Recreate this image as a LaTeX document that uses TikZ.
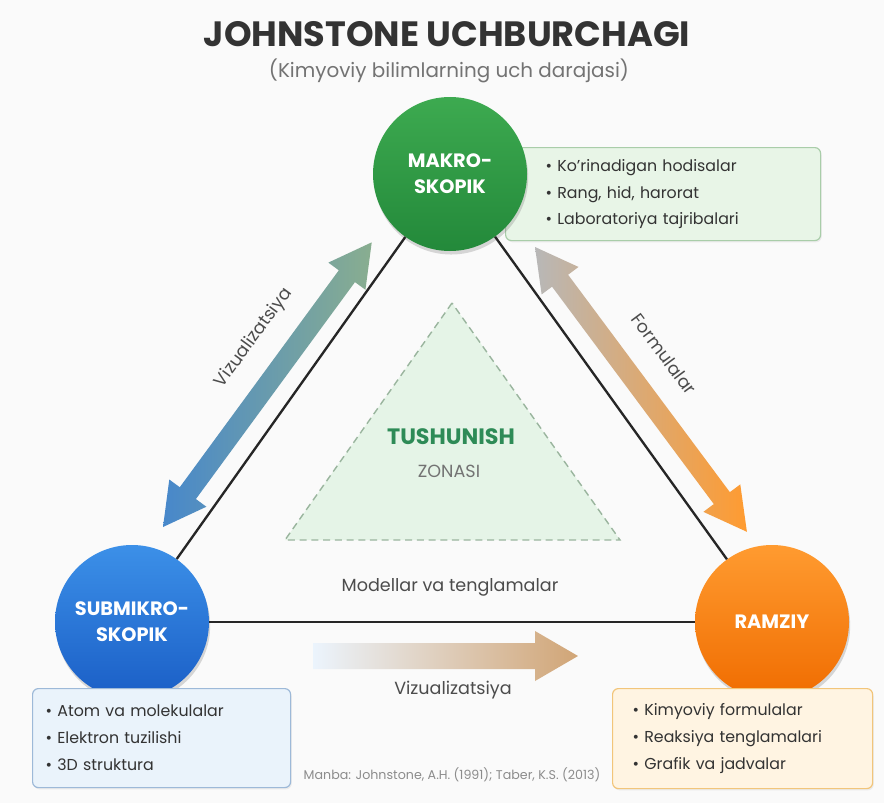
\documentclass[tikz,border=0pt]{standalone}
\usepackage{fontspec}
\setmainfont{Poppins}
\usetikzlibrary{shadows}

\definecolor{bgcol}{HTML}{FAFAFA}
\definecolor{makrotop}{HTML}{3DAA50}
\definecolor{makrobot}{HTML}{23893A}
\definecolor{subtop}{HTML}{3C90E8}
\definecolor{subbot}{HTML}{1A5EC6}
\definecolor{ramtop}{HTML}{FF9B30}
\definecolor{rambot}{HTML}{F06C00}
\definecolor{makrobox}{HTML}{E8F5E7}
\definecolor{makroline}{HTML}{A9CDA9}
\definecolor{subbox}{HTML}{EAF3FB}
\definecolor{subline}{HTML}{9DB9D8}
\definecolor{rambox}{HTML}{FFF4E2}
\definecolor{ramline}{HTML}{F2C57A}
\definecolor{zonefill}{HTML}{E5F4E7}
\definecolor{zoneline}{HTML}{9AB59E}
\definecolor{zonegreen}{HTML}{2E8B57}

\begin{document}
\begin{tikzpicture}[x=0.3mm, y=-0.3mm,
  stage/.style={circle, minimum size=46.2mm, inner sep=0pt, align=center, text=white,
    font=\fontsize{16.5}{22}\selectfont\bfseries,
    drop shadow={shadow xshift=1pt, shadow yshift=-3pt, opacity=0.3}},
  info/.style={anchor=north west, rounded corners=5pt, line width=1pt, align=left,
    inner ysep=0pt, text=black!80, font=\fontsize{13.5}{23}\selectfont,
    drop shadow={shadow xshift=1pt, shadow yshift=-1.5pt, opacity=0.12}},
  side/.style={line width=2pt, draw=black!85},
  zone/.style={fill=zonefill, draw=zoneline, line width=1.2pt, dash pattern=on 6pt off 4pt},
  arrowtext/.style={text=black!70, font=\fontsize{15}{18}\selectfont}]
	\useasboundingbox (0,0) rectangle (884,803);
	\fill[bgcol] (0,0) rectangle (884,803);
	\node[text=black!80, font=\fontsize{30}{33}\selectfont\bfseries] (title) at (447,34) {JOHNSTONE UCHBURCHAGI};
	\node[text=black!55, font=\fontsize{17}{20}\selectfont] (subtitle) at (449,71) {(Kimyoviy bilimlarning uch darajasi)};
	\coordinate (z1) at (452,303);
	\coordinate (z2) at (285,540);
	\coordinate (z3) at (620,540);
	\draw[zone] (z1) -- (z2) -- (z3) -- cycle;
	\node[text=zonegreen, font=\fontsize{19}{22}\selectfont\bfseries] (tush) at (451,437) {TUSHUNISH};
	\node[text=black!55, font=\fontsize{15}{18}\selectfont] (zona) at (449,471) {ZONASI};
	\node[info, draw=makroline, fill=makrobox, minimum height=27.9mm, text width=70.5mm, inner xsep=12mm] (makroinfo) at (505,147) {\textbullet\ Ko’rinadigan hodisalar\\ \textbullet\ Rang, hid, harorat\\ \textbullet\ Laboratoriya tajribalari};
	\node[stage, top color=makrotop, bottom color=makrobot] (makro) at (450,174) {MAKRO-\\SKOPIK};
	\node[stage, top color=subtop, bottom color=subbot] (submikro) at (132,622) {SUBMIKRO-\\SKOPIK};
	\node[stage, top color=ramtop, bottom color=rambot] (ramziy) at (772,622) {RAMZIY};
	\draw[side] (makro) -- (submikro);
	\draw[side] (makro) -- (ramziy);
	\draw[side] (submikro) -- (ramziy);
	\coordinate (viz1) at (163,527);
	\begin{scope}[shift={(viz1)}, rotate=53.75]
		\shade[left color=subtop!85!black!90, middle color=subtop!45, right color=makrotop!45!gray!75]
			(0,0) -- (42,-23) -- (42,-10) -- (311,-10) -- (311,-23) -- (353,0) -- (311,23) -- (311,10) -- (42,10) -- (42,23) -- cycle;
	\end{scope}
	\node[arrowtext, rotate=53.75] (vizlabel) at (254,338) {Vizualizatsiya};
	\coordinate (form1) at (535,247);
	\begin{scope}[shift={(form1)}, rotate=-53.35]
		\shade[left color=black!28, middle color=black!12!orange!25, right color=ramtop]
			(0,0) -- (42,-23) -- (42,-10) -- (313,-10) -- (313,-23) -- (355,0) -- (313,23) -- (313,10) -- (42,10) -- (42,23) -- cycle;
	\end{scope}
	\node[arrowtext, rotate=-53.35] (formlabel) at (664,354) {Formulalar};
	\node[arrowtext] (model) at (450,587) {Modellar va tenglamalar};
	\coordinate (mv1) at (313,656);
	\begin{scope}[shift={(mv1)}]
		\shade[left color=subtop!10, middle color=subtop!35!gray!45, right color=ramtop!55!gray!80]
			(0,-13) -- (222,-13) -- (222,-25) -- (265,0) -- (222,25) -- (222,13) -- (0,13) -- cycle;
	\end{scope}
	\node[arrowtext] (vizbottom) at (453,690) {Vizualizatsiya};
	\node[info, draw=subline, fill=subbox, minimum height=29.7mm, text width=69.6mm, inner xsep=3.9mm] (subinfo) at (32,688) {\textbullet\ Atom va molekulalar\\ \textbullet\ Elektron tuzilishi\\ \textbullet\ 3D struktura};
	\node[text=black!45, font=\fontsize{10.8}{13}\selectfont] (manba) at (452,775) {Manba: Johnstone, A.H. (1991); Taber, K.S. (2013)};
	\node[info, draw=ramline, fill=rambox, minimum height=30mm, text width=66mm, inner xsep=6mm] (raminfo) at (612,688) {\textbullet\ Kimyoviy formulalar\\ \textbullet\ Reaksiya tenglamalari\\ \textbullet\ Grafik va jadvalar};
\end{tikzpicture}
\end{document}
